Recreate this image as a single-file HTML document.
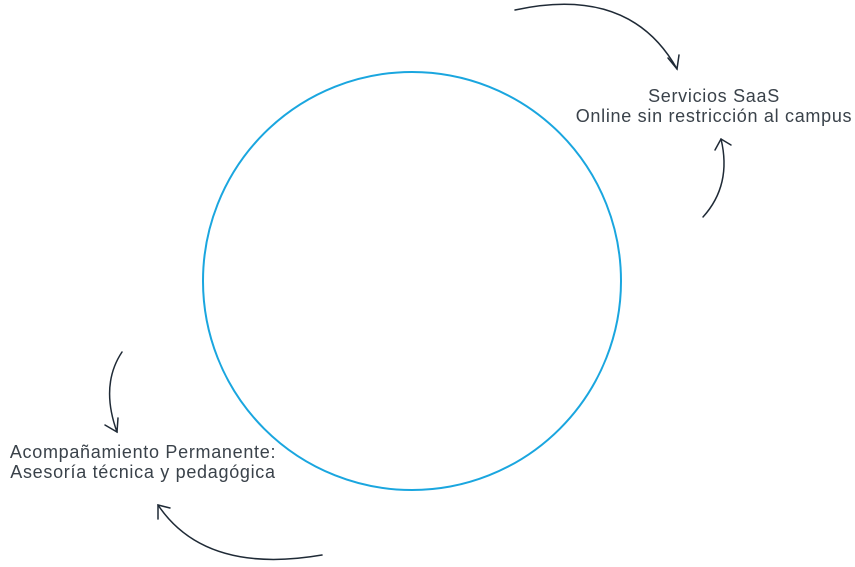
<!DOCTYPE html>
<html><head><meta charset="utf-8"><style>
html,body{margin:0;padding:0;background:#fff;}
body{width:855px;height:567px;position:relative;overflow:hidden;font-family:"Liberation Sans",sans-serif;}
.t{position:absolute;text-align:center;font-size:18px;line-height:20px;letter-spacing:0.7px;color:#3a424a;white-space:nowrap;}
</style></head><body>
<svg width="855" height="567" style="position:absolute;left:0;top:0">
<circle cx="412" cy="281" r="209" fill="none" stroke="#1aa6df" stroke-width="2"/>
<g fill="none" stroke="#1f2a36" stroke-width="1.5" stroke-linecap="round">
<path d="M515 10 Q630 -15 677 69"/>
<path d="M668 58 L677 69 L679 55"/>
<path d="M703 217 Q732 185 721 139"/>
<path d="M715 150 L721 139 L731 145"/>
<path d="M122 352 Q100 385 117 432"/>
<path d="M105 425 L117 432 L118 418"/>
<path d="M322 555 Q205 575 158 505"/>
<path d="M158 519 L158 505 L170 508"/>
</g>
</svg>
<div class="t" style="left:555px;top:86px;width:318px;">Servicios SaaS<br>Online sin restricción al campus</div>
<div class="t" style="left:0px;top:442px;width:286px;">Acompañamiento Permanente:<br>Asesoría técnica y pedagógica</div>
</body></html>
